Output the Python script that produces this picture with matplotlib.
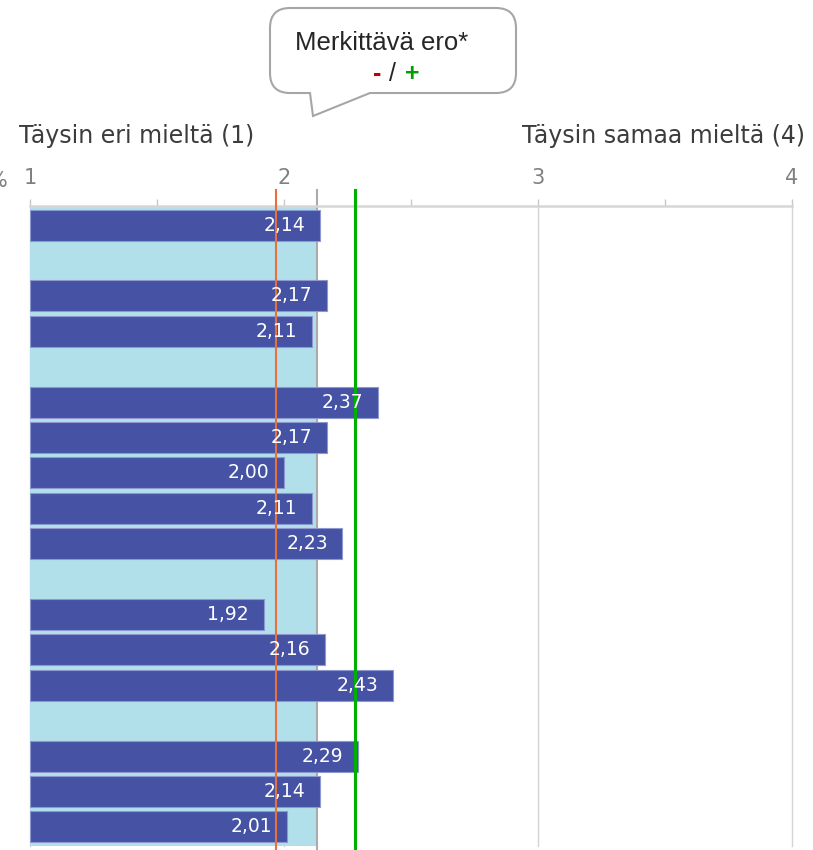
'''
Horizontal bar chart of mean agreement scores (scale 1-4)
with the total mean band and significance limits
'''

import matplotlib.pyplot as plt
import numpy as np
from matplotlib.path import Path
from matplotlib.patches import PathPatch

plt.rcParams['font.family'] = 'DejaVu Sans'

# bar values per row, None = empty separator row
values = [2.14, None, 2.17, 2.11, None, 2.37, 2.17, 2.00, 2.11, 2.23,
          None, 1.92, 2.16, 2.43, None, 2.29, 2.14, 2.01]
labels = ['' if v is None else '{:.2f}'.format(v).replace('.', ',') for v in values]

total_mean = 2.13
lower_limit = 1.97
upper_limit = 2.28

xticks = [1, 2, 3, 4]
xminor = [1.5, 2.5, 3.5]
left_title = 'Täysin eri mieltä (1)'
right_title = 'Täysin samaa mieltä (4)'
callout_title = 'Merkittävä ero*'

W, H = 813, 850
fig = plt.figure(figsize=(W / 100, H / 100), dpi=100)
ax = fig.add_axes([30 / W, 4 / H, 762 / W, 640 / H])

rows = np.arange(len(values))
vals = np.array([np.nan if v is None else v for v in values])

ax.set_axisbelow(True)
ax.grid(axis='x', which='major', color='#d4d4d4', lw=1)
for gl in ax.xaxis.get_gridlines():
    gl.set_clip_on(False)
ax.axvspan(1, total_mean, color='#b2e0ea', lw=0, zorder=0.8)

bars = ax.barh(rows, vals - 1, left=1, height=0.88, color='#4653a5',
               edgecolor='#8e97cf', lw=0.8, zorder=2)

for r, v, s in zip(rows, vals, labels):
    if np.isnan(v):
        continue
    ax.annotate(s, (v, r), xytext=(-10.5, 0), textcoords='offset points',
                ha='right', va='center', color='white', fontsize=13.5, zorder=4)

tr = ax.get_xaxis_transform()
ax.plot([total_mean, total_mean], [-0.01, 1.025], transform=tr, color='#ababab',
        lw=1.5, clip_on=False, zorder=1.5)
ax.plot([lower_limit, lower_limit], [-0.01, 1.025], transform=tr, color='#e8703a',
        lw=1.5, clip_on=False, zorder=3)
ax.plot([upper_limit, upper_limit], [-0.01, 1.025], transform=tr, color='#00b000',
        lw=2.2, clip_on=False, zorder=3)

ax.set_xlim(1, 4)
ax.set_ylim(17.54, -0.54)
ax.set_yticks([])
ax.xaxis.tick_top()
ax.set_xticks(xticks)
ax.set_xticks(xminor, minor=True)
ax.set_xticklabels([str(t) for t in xticks])
ax.tick_params(axis='x', which='both', direction='out', length=5, width=1,
               color='#c8c8c8', labelcolor='#808080', labelsize=15, pad=8)
for gl in ax.xaxis.get_gridlines():
    gl.set_clip_on(False)
for side in ['left', 'right', 'bottom']:
    ax.spines[side].set_visible(False)
ax.spines['top'].set_color('#d6d6d6')
ax.spines['top'].set_linewidth(1.8)

# header texts
fig.text(19 / W, 1 - 142.5 / H, left_title, fontsize=17, color='#3c3c3c',
         ha='left', va='baseline')
fig.text(805 / W, 1 - 142.5 / H, right_title, fontsize=17, color='#3c3c3c',
         ha='right', va='baseline')
fig.text(8 / W, 1 - 187 / H, '%', fontsize=15, color='#808080',
         ha='right', va='baseline')

# callout bubble
L, R, T, B, rad = 270, 516, 8, 93, 20
pts = [(L + rad, T), (R - rad, T), (R, T), (R, T + rad), (R, B - rad), (R, B), (R - rad, B),
       (370, B), (313, 116), (310, B), (L + rad, B), (L, B), (L, B - rad),
       (L, T + rad), (L, T), (L + rad, T), (L + rad, T)]
codes = [Path.MOVETO, Path.LINETO, Path.CURVE3, Path.CURVE3, Path.LINETO, Path.CURVE3, Path.CURVE3,
         Path.LINETO, Path.LINETO, Path.LINETO, Path.LINETO, Path.CURVE3, Path.CURVE3,
         Path.LINETO, Path.CURVE3, Path.CURVE3, Path.CLOSEPOLY]
verts = [(x / W, 1 - y / H) for x, y in pts]
bubble = PathPatch(Path(verts, codes), transform=fig.transFigure, facecolor='white',
                   edgecolor='#a6a6a6', lw=1.5)
fig.patches.append(bubble)

fig.text(382 / W, 1 - 49.5 / H, callout_title, fontsize=18.5, family='Liberation Sans',
         color='#262626', ha='center', va='baseline')
fig.text(377 / W, 1 - 81 / H, '-', fontsize=18, family='Liberation Sans', weight='bold',
         color='#c00000', ha='center', va='baseline')
fig.text(392 / W, 1 - 81 / H, '/', fontsize=18, family='Liberation Sans',
         color='#262626', ha='center', va='baseline')
fig.text(412 / W, 1 - 81 / H, '+', fontsize=18, family='Liberation Sans', weight='bold',
         color='#00a000', ha='center', va='baseline')

fig.savefig('out.png', dpi=100)
